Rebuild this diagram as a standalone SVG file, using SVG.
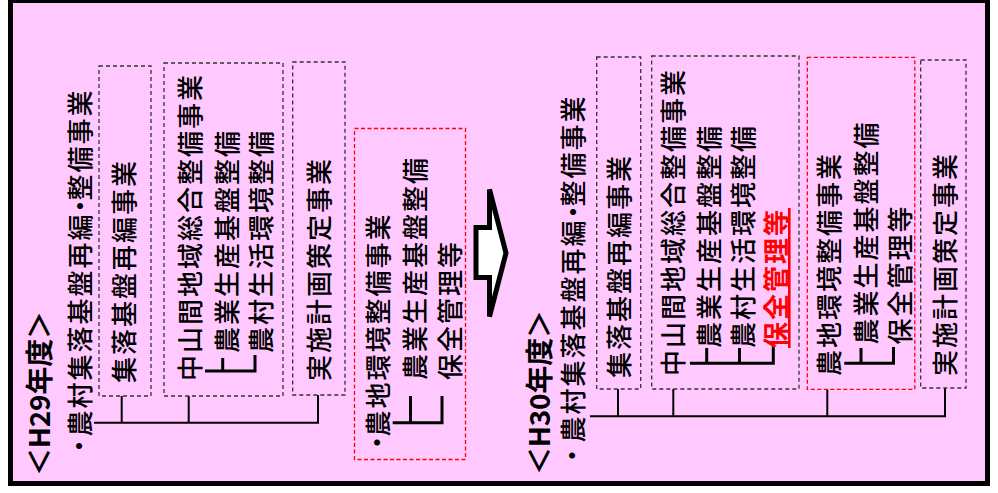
<svg xmlns="http://www.w3.org/2000/svg" width="998" height="493" viewBox="0 0 998 493">
<style>
.t{font-family:"Noto Sans CJK JP","Noto Sans",sans-serif;font-size:26px;letter-spacing:2px;dominant-baseline:central;fill:#000;font-weight:500}
.h{font-family:"Noto Sans CJK JP","Noto Sans",sans-serif;font-size:28px;font-weight:bold;dominant-baseline:central;fill:#000}
.red{fill:#FF0000;font-weight:bold;text-decoration:underline}
.box{fill:none;stroke:#333;stroke-width:1.3;stroke-dasharray:4 3}
.rbox{fill:none;stroke:#FF0000;stroke-width:1.3;stroke-dasharray:4 2.5}
.main{fill:none;stroke:#000;stroke-width:2}
.tree{fill:none;stroke:#000;stroke-width:3}
</style>
<rect x="10.5" y="0.5" width="977" height="483" fill="#FFC9FF" stroke="#000" stroke-width="5"/>

<g id="connectors">
  <path class="main" d="M94,422.7 H318 V395 M121.7,422.7 V396 M188.7,422.7 V396"/>
  <path class="tree" d="M205,371 H255 V355 M222.7,371 V358"/>
  <path class="tree" d="M392.7,422.7 H442 V396 M410.5,422.7 V396"/>
  <path class="main" d="M590,416.3 H945 V388 M618,416.3 V389 M673.3,416.3 V389 M827.3,416.3 V389.5"/>
  <path class="tree" d="M690,363.3 H773.3 V346.7 M706.7,363.3 V348 M739.5,363.3 V348"/>
  <path class="tree" d="M844.3,363.3 H893.5 V347 M861,363.3 V348"/>
</g>

<g id="arrow">
  <polygon points="476,227.5 489.5,227.5 489.5,189.5 506,253 489.5,316.5 489.5,277.5 476,277.5" fill="#fff" stroke="#000" stroke-width="5"/>
</g>

<!-- H29 -->
<g id="h29-title">
  <text class="h" transform="translate(37.5,476) rotate(-90)" textLength="165" lengthAdjust="spacing">＜H29年度＞</text>
</g>
<g id="h29-root">
  <text class="t" transform="translate(77.5,459) rotate(-90)">・<tspan dx="-5.5">農村集落基盤再編</tspan><tspan dx="-6.5">・</tspan><tspan dx="-9.5">整備事業</tspan></text>
</g>
<g id="h29-shuraku">
  <rect class="box" x="99" y="66" width="52" height="330"/>
  <text class="t" transform="translate(122.5,383) rotate(-90)">集落基盤再編事業</text>
</g>
<g id="h29-chusankan">
  <rect class="box" x="164" y="63" width="119" height="333"/>
  <text class="t" transform="translate(188,381) rotate(-90)">中山間地域総合整備事業</text>
  <text class="t" transform="translate(225.5,353) rotate(-90)">農業生産基盤整備</text>
  <text class="t" transform="translate(259.8,353) rotate(-90)">農村生活環境整備</text>
</g>
<g id="h29-jisshi">
  <rect class="box" x="292.7" y="62" width="52.3" height="333"/>
  <text class="t" transform="translate(317.5,381) rotate(-90)">実施計画策定事業</text>
</g>
<g id="h29-nochi">
  <rect class="rbox" x="354.5" y="128.5" width="111" height="331"/>
  <text class="t" transform="translate(375.8,455.5) rotate(-90)">・<tspan dx="-9">農地環境整備事業</tspan></text>
  <text class="t" transform="translate(413,380) rotate(-90)">農業生産基盤整備</text>
  <text class="t" transform="translate(448,380) rotate(-90)">保全管理等</text>
</g>

<!-- H30 -->
<g id="h30-title">
  <text class="h" transform="translate(537.5,475) rotate(-90)" textLength="165" lengthAdjust="spacing">＜H30年度＞</text>
</g>
<g id="h30-root">
  <text class="t" transform="translate(570.8,468.5) rotate(-90)">・<tspan dx="-2">農村集落基盤再編</tspan><tspan dx="-6.5">・</tspan><tspan dx="-9.5">整備事業</tspan></text>
</g>
<g id="h30-shuraku">
  <rect class="box" x="596.7" y="57" width="44" height="332"/>
  <text class="t" transform="translate(617.5,378) rotate(-90)">集落基盤再編事業</text>
</g>
<g id="h30-chusankan">
  <rect class="box" x="651.7" y="56" width="147.3" height="333"/>
  <text class="t" transform="translate(671,376) rotate(-90)">中山間地域総合整備事業</text>
  <text class="t" transform="translate(707.5,348) rotate(-90)">農業生産基盤整備</text>
  <text class="t" transform="translate(741,348) rotate(-90)">農村生活環境整備</text>
  <text class="t red" transform="translate(774.5,348) rotate(-90)">保全管理等</text>
</g>
<g id="h30-nochi">
  <rect class="rbox" x="807.3" y="57.3" width="107.5" height="332"/>
  <text class="t" transform="translate(827.5,376) rotate(-90)">農地環境整備事業</text>
  <text class="t" transform="translate(864,344.5) rotate(-90)">農業生産基盤整備</text>
  <text class="t" transform="translate(898,344.5) rotate(-90)">保全管理等</text>
</g>
<g id="h30-jisshi">
  <rect class="box" x="920.7" y="60" width="45.3" height="328"/>
  <text class="t" transform="translate(943.5,376) rotate(-90)">実施計画策定事業</text>
</g>
</svg>
